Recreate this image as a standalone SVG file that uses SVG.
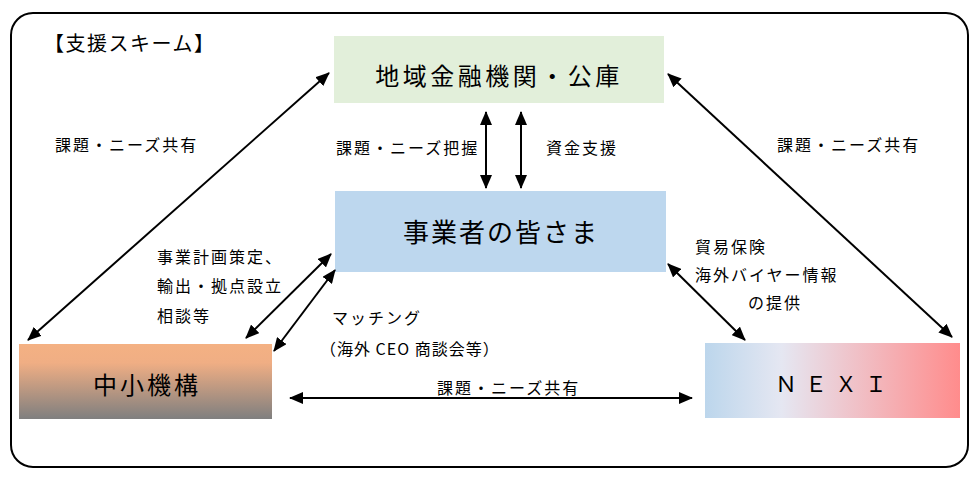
<svg xmlns="http://www.w3.org/2000/svg" width="979" height="479" viewBox="0 0 979 479">
<style>
text { font-family: "Noto Sans CJK JP", "Noto Sans", sans-serif; fill: #000; }
.lbl { font-size: 16px; letter-spacing: 2px; }
.conn line { stroke: #000; stroke-width: 2; marker-start: url(#arr); marker-end: url(#arr); }
</style>
<defs>
<marker id="arr" viewBox="0 0 14 12" refX="13" refY="6" markerWidth="14" markerHeight="12" markerUnits="userSpaceOnUse" orient="auto-start-reverse">
<path d="M0,0 L14,6 L0,12 z" fill="#000"/>
</marker>
<linearGradient id="gOrange" x1="0" y1="0" x2="0" y2="1">
<stop offset="0" stop-color="#f4b183"/>
<stop offset="0.25" stop-color="#f0ae84"/>
<stop offset="1" stop-color="#7f7f7f"/>
</linearGradient>
<linearGradient id="gNexi" x1="0" y1="0" x2="1" y2="0">
<stop offset="0" stop-color="#bcd6ec"/>
<stop offset="0.3" stop-color="#e5e7f2"/>
<stop offset="1" stop-color="#ff8c8c"/>
</linearGradient>
</defs>
<rect x="0" y="0" width="979" height="479" fill="#fff"/>
<rect id="frame" x="11" y="13" width="957" height="454" rx="22" ry="22" fill="none" stroke="#000" stroke-width="2"/>
<text x="44" y="51" style="font-size:20px;letter-spacing:1.5px">【支援スキーム】</text>

<g id="bank">
<rect x="334" y="36" width="330" height="67" fill="#e2efda"/>
<text x="499" y="85" text-anchor="middle" style="font-size:24px;letter-spacing:3.5px">地域金融機関・公庫</text>
</g>
<g id="business">
<rect x="335" y="191" width="331" height="81" fill="#bdd7ee"/>
<text x="501" y="242" text-anchor="middle" style="font-size:26px;letter-spacing:2px">事業者の皆さま</text>
</g>
<g id="smrj">
<rect x="19" y="344" width="253" height="75" fill="url(#gOrange)"/>
<text x="147" y="394" text-anchor="middle" style="font-size:24px;letter-spacing:3px">中小機構</text>
</g>
<g id="nexi">
<rect x="705" y="343" width="255" height="75" fill="url(#gNexi)"/>
<text x="835" y="392" text-anchor="middle" style="font-size:22px;letter-spacing:8px">ＮＥＸＩ</text>
</g>

<g id="connectors" class="conn">
<line x1="329" y1="73" x2="28" y2="340"/>
<line x1="668" y1="74" x2="952" y2="337"/>
<line x1="486" y1="112" x2="486" y2="188"/>
<line x1="521" y1="112" x2="521" y2="188"/>
<line x1="331" y1="254" x2="246" y2="338"/>
<line x1="335" y1="270" x2="274" y2="351"/>
<line x1="668" y1="264" x2="745" y2="340"/>
<line x1="290" y1="398" x2="692" y2="398"/>
</g>

<g id="labels">
<text class="lbl" x="55" y="151">課題・ニーズ共有</text>
<text class="lbl" x="777" y="151">課題・ニーズ共有</text>
<text class="lbl" x="336" y="154">課題・ニーズ把握</text>
<text class="lbl" x="546" y="154">資金支援</text>
<text class="lbl" x="157" y="263">事業計画策定、</text>
<text class="lbl" x="157" y="292">輸出・拠点設立</text>
<text class="lbl" x="157" y="322">相談等</text>
<text class="lbl" x="332" y="324">マッチング</text>
<text class="lbl" x="320" y="355" style="letter-spacing:1px">（海外 CEO 商談会等）</text>
<text class="lbl" x="695" y="253">貿易保険</text>
<text class="lbl" x="695" y="281">海外バイヤー情報</text>
<text class="lbl" x="748" y="309">の提供</text>
<text class="lbl" x="437" y="394">課題・ニーズ共有</text>
</g>
</svg>
